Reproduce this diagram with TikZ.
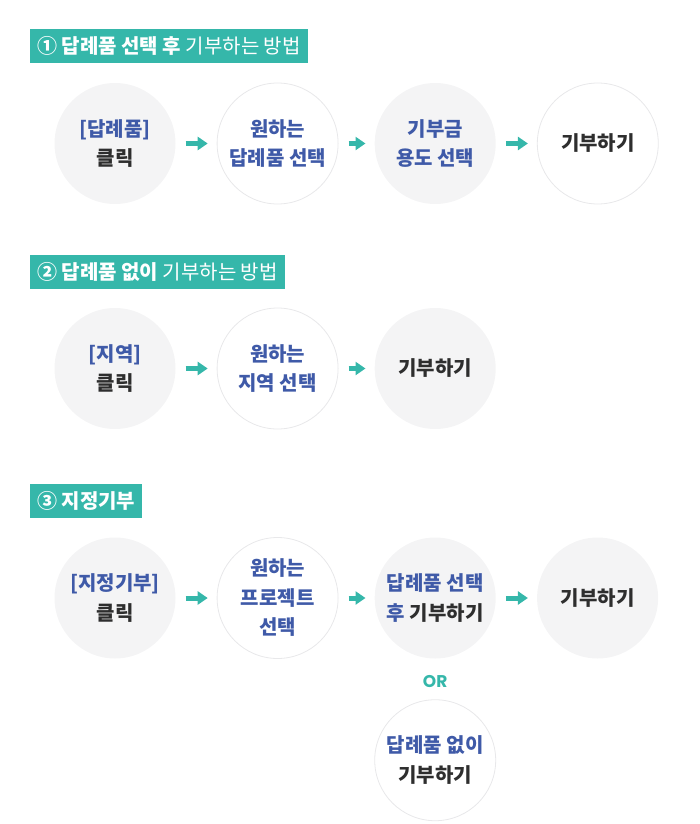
\documentclass[tikz,border=0pt]{standalone}
\usepackage{fontspec}
\setmainfont{Noto Sans CJK KR}
\newfontfamily\orfont{Poppins}
\usetikzlibrary{arrows.meta,positioning}

\definecolor{cteal}{HTML}{35B7AA}
\definecolor{cblue}{HTML}{3F5AA8}
\definecolor{cdark}{HTML}{2E2E2E}
\definecolor{cgray}{HTML}{F4F4F5}
\definecolor{cline}{HTML}{E8E8EA}
\newcommand{\blu}[1]{\textcolor{cblue}{#1}}

\begin{document}
\begin{tikzpicture}[x=1pt, y=-1pt,
  stepg/.style={circle, fill=cgray, minimum size=121pt, inner sep=0pt, align=center, text=cdark, font=\fontsize{20}{29.5}\selectfont\bfseries},
  stepw/.style={stepg, fill=white, draw=cline, line width=0.8pt},
  head/.style={fill=cteal, text=white, anchor=west, minimum height=34pt, inner xsep=7pt, font=\fontsize{20}{22}\selectfont},
  arr/.style={-{Triangle[length=10pt,width=13pt]}, line width=5pt, draw=cteal, shorten <=10pt, shorten >=9pt},
  ortext/.style={inner sep=0pt, text=cteal, font=\orfont\fontsize{17}{17}\selectfont\bfseries}
]
\useasboundingbox (0,0) rectangle (700,824);

% 1
\node[head] (h1) at (30,46) {{\bfseries ① 답례품 선택 후} 기부하는 방법};
\node[stepg] (a1) at (115,143.5) {\blu{[답례품]}\\클릭};
\node[stepw, right=41pt of a1] (a2) {\blu{원하는}\\\blu{답례품 선택}};
\node[stepg, right=36pt of a2] (a3) {\blu{기부금}\\\blu{용도 선택}};
\node[stepw, right=41pt of a3] (a4) {기부하기};
\draw[arr] (a1) -- (a2);
\draw[arr] (a2) -- (a3);
\draw[arr] (a3) -- (a4);

% 2
\node[head] (h2) at (30,272) {{\bfseries ② 답례품 없이} 기부하는 방법};
\node[stepg] (b1) at (115,368.5) {\blu{[지역]}\\클릭};
\node[stepw, right=41pt of b1] (b2) {\blu{원하는}\\\blu{지역 선택}};
\node[stepg, right=36pt of b2] (b3) {기부하기};
\draw[arr] (b1) -- (b2);
\draw[arr] (b2) -- (b3);

% 3
\node[head] (h3) at (30,501) {\bfseries ③ 지정기부};
\node[stepg] (d1) at (115,598) {\blu{[지정기부]}\\클릭};
\node[stepw, right=41pt of d1] (d2) {\blu{원하는}\\\blu{프로젝트}\\\blu{선택}};
\node[stepg, right=36pt of d2] (d3) {\blu{답례품 선택}\\\blu{후} 기부하기};
\node[stepg, right=41pt of d3] (d4) {기부하기};
\node[ortext, below=16pt of d3] (or) {OR};
\node[stepw, below=12pt of or] (d5) {\blu{답례품 없이}\\기부하기};
\draw[arr] (d1) -- (d2);
\draw[arr] (d2) -- (d3);
\draw[arr] (d3) -- (d4);

\end{tikzpicture}
\end{document}
